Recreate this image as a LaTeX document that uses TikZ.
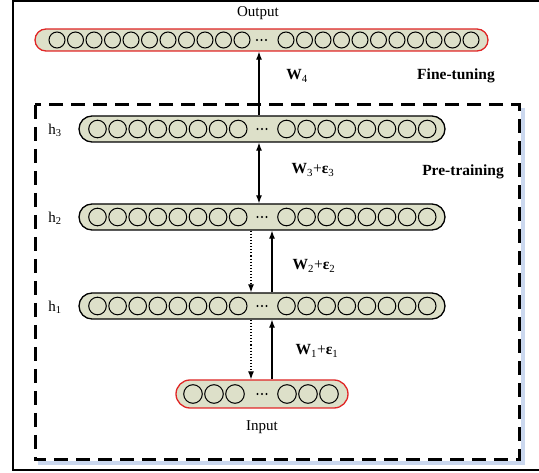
\documentclass[tikz,border=0pt]{standalone}
\usepackage{fontspec}
\setmainfont{Liberation Serif}
\usetikzlibrary{arrows.meta,shapes.misc,positioning}

\definecolor{barfill}{RGB}{221,224,201}
\definecolor{barred}{RGB}{224,38,38}
\definecolor{shadowblue}{RGB}{202,215,238}

\newcommand{\unitdots}[1]{\foreach \d in {-4.5,0,4.5} \fill ([xshift=\d pt]#1) circle (1.2pt);}

\begin{document}
\begin{tikzpicture}[x=1pt, y=-1pt,
    layer/.style={rounded rectangle, draw, line width=1.3pt, fill=barfill, inner sep=0pt},
    outer layer/.style={layer, draw=barred},
    lbl/.style={font=\fontsize{15}{18}\selectfont},
    wlbl/.style={font=\fontsize{15.5}{18}\selectfont\bfseries},
    arr/.style={-{Latex[length=8pt,width=6pt]}, line width=1.1pt},
    darr/.style={{Latex[length=8pt,width=6pt]}-{Latex[length=8pt,width=6pt]}, line width=1.1pt}
]
\useasboundingbox (0,0) rectangle (539,473);

% outer frame and the pre-training box with its shadow
\draw[line width=1.5pt] (13,1) rectangle (560,470);
\draw[shadowblue, line width=4pt] (523,108) -- (523,463) -- (38,463);
\draw[line width=3pt, dash pattern=on 14pt off 8pt] (35,105) rectangle (519,460);

% layers
\node[outer layer, minimum width=453pt, minimum height=22pt] (out) at (261.5,40) {};
\node[layer, minimum width=366pt, minimum height=26pt] (h3) at (262,129) {};
\node[layer, minimum width=366pt, minimum height=26pt] (h2) at (262,217) {};
\node[layer, minimum width=366pt, minimum height=26pt] (h1) at (262,306) {};
\node[outer layer, minimum width=172pt, minimum height=28pt] (in) at (262,394) {};

% units
\foreach \i in {0,...,10} {
  \draw[line width=1pt] ({57+18.5*\i},40) circle (8pt);
  \draw[line width=1pt] ({286+18.5*\i},40) circle (8pt);
}
\foreach \y in {129,217,306} {
  \foreach \i in {0,...,7} {
    \draw[line width=1pt] ({97.5+20.1*\i},\y) circle (8.8pt);
    \draw[line width=1pt] ({286.5+20.1*\i},\y) circle (8.8pt);
  }
}
\foreach \i in {0,1,2} {
  \draw[line width=1pt] ({193+21*\i},394) circle (9.3pt);
  \draw[line width=1pt] ({287+21*\i},394) circle (9.3pt);
}
\unitdots{out.center}
\unitdots{h3.center}
\unitdots{h2.center}
\unitdots{h1.center}
\unitdots{in.center}

% connections
\draw[arr] ([xshift=-3pt]h3.north) -- ([xshift=-3pt]h3.north |- out.south);
\draw[darr] ([xshift=-3pt]h3.south) -- ([xshift=-3pt]h3.south |- h2.north);
\draw[arr, dotted] ([xshift=-11pt]h2.south) -- ([xshift=-11pt]h2.south |- h1.north);
\draw[arr] ([xshift=10pt]h1.north) -- ([xshift=10pt]h1.north |- h2.south);
\draw[arr, dotted] ([xshift=-11pt]h1.south) -- ([xshift=-11pt]h1.south |- in.north);
\draw[arr] ([xshift=10pt]in.north) -- ([xshift=10pt]in.north |- h1.south);

% labels
\node[lbl] (outlbl) at (258,13) {Output};
\node[lbl] (inlbl) at (262,427) {Input};
\node[lbl] (h3lbl) at (55,130) {h\textsubscript{3}};
\node[lbl] (h2lbl) at (55,218) {h\textsubscript{2}};
\node[lbl] (h1lbl) at (55,307) {h\textsubscript{1}};
\node[wlbl] (w4) at (297,76) {W\textsubscript{\mdseries 4}};
\node[wlbl] (w3) at (313,170) {W\textsubscript{\mdseries 3}\mdseries+\bfseries ε\textsubscript{\mdseries 3}};
\node[wlbl] (w2) at (314,266) {W\textsubscript{\mdseries 2}\mdseries+\bfseries ε\textsubscript{\mdseries 2}};
\node[wlbl] (w1) at (317,351) {W\textsubscript{\mdseries 1}\mdseries+\bfseries ε\textsubscript{\mdseries 1}};
\node[wlbl] (finetune) at (456,76) {Fine-tuning};
\node[wlbl] (pretrain) at (463,172) {Pre-training};
\end{tikzpicture}
\end{document}
